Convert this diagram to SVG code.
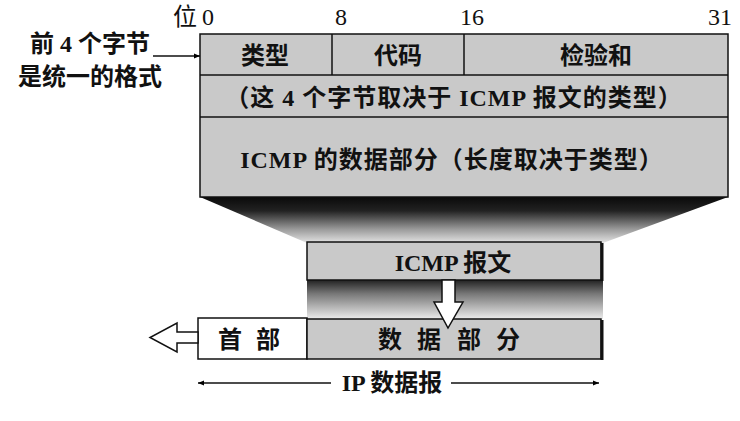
<svg xmlns="http://www.w3.org/2000/svg" width="740" height="421" viewBox="0 0 740 421">
<defs>
<linearGradient id="sh1" x1="0" y1="0" x2="0" y2="1">
<stop offset="0" stop-color="#0a0a0a"/>
<stop offset="0.3" stop-color="#222"/>
<stop offset="0.7" stop-color="#9a9a9a"/>
<stop offset="1" stop-color="#e4e4e4"/>
</linearGradient>
<linearGradient id="sh2" x1="0" y1="0" x2="0" y2="1">
<stop offset="0" stop-color="#222"/>
<stop offset="0.35" stop-color="#777"/>
<stop offset="1" stop-color="#ececec"/>
</linearGradient>
<marker id="ah" viewBox="0 0 10 10" refX="10" refY="5" markerWidth="9" markerHeight="6" orient="auto-start-reverse" markerUnits="userSpaceOnUse">
<path d="M0,1 L10,5 L0,9 z" fill="#000"/>
</marker>
</defs>
<style>
.box{fill:#c9c9c9;stroke:#111;stroke-width:1.5}
.wbox{fill:#fff;stroke:#111;stroke-width:1.5}
.t{font-family:"Liberation Serif","Noto Sans CJK SC",serif;font-size:24px;font-weight:bold;fill:#111;text-anchor:middle}
.w{letter-spacing:1px}
.n{font-family:"Liberation Serif","Noto Sans CJK SC",serif;font-size:24px;fill:#111;text-anchor:middle}
.ln{stroke:#111;stroke-width:1.5;fill:none}
</style>
<rect width="740" height="421" fill="#fff"/>
<!-- shadows -->
<polygon points="200,197 728,197 603,243 307,243" fill="url(#sh1)"/>
<rect x="307" y="280" width="296" height="39" fill="url(#sh2)"/>
<!-- bit labels -->
<text class="n" x="185" y="25">位</text>
<text class="n" x="208" y="25">0</text>
<text class="n" x="341" y="25">8</text>
<text class="n" x="472" y="25">16</text>
<text class="n" x="720" y="25">31</text>
<g id="icmp-header">
<rect class="box" x="200" y="34" width="528" height="163"/>
<line class="ln" x1="200" y1="75" x2="728" y2="75"/>
<line class="ln" x1="200" y1="117" x2="728" y2="117"/>
<line class="ln" x1="332" y1="34" x2="332" y2="75"/>
<line class="ln" x1="464" y1="34" x2="464" y2="75"/>
<text class="t" x="265" y="64">类型</text>
<text class="t" x="398" y="64">代码</text>
<text class="t" x="596" y="64">检验和</text>
<text class="t w" x="454" y="106">（这 4 个字节取决于 ICMP 报文的类型）</text>
<text class="t w" x="452" y="168">ICMP 的数据部分（长度取决于类型）</text>
</g>
<g id="note">
<text class="t" x="90" y="52">前 4 个字节</text>
<text class="t" x="90" y="85">是统一的格式</text>
</g>
<g id="icmp-msg">
<rect class="box" x="307" y="242" width="294" height="38"/>
<line x1="602" y1="243" x2="602" y2="281" stroke="#111" stroke-width="3"/>
<text class="t" x="453" y="271">ICMP 报文</text>
</g>
<g id="ip-header">
<rect class="wbox" x="198" y="318" width="109" height="41"/>
<text class="t" x="230" y="348">首</text>
<text class="t" x="268" y="348">部</text>
</g>
<g id="ip-data">
<rect class="box" x="307" y="319" width="294" height="40"/>
<line x1="602" y1="320" x2="602" y2="360" stroke="#111" stroke-width="3"/>
<text class="t" x="390" y="348">数</text>
<text class="t" x="429" y="348">据</text>
<text class="t" x="469" y="348">部</text>
<text class="t" x="508" y="348">分</text>
</g>
<g id="ip-datagram">
<text class="t" x="392" y="391">IP 数据报</text>
</g>
<g id="connectors">
<line class="ln" x1="153" y1="56" x2="200" y2="56" marker-end="url(#ah)"/>
<polygon points="442,280 455,280 455,302 463,302 448,328 434,302 442,302" fill="#fff" stroke="#111" stroke-width="1.5"/>
<polygon points="198,332 177,332 177,323 150,337.5 177,352 177,343 198,343" fill="#fff" stroke="#111" stroke-width="1.5"/>
<line class="ln" x1="331" y1="383" x2="198" y2="383" marker-end="url(#ah)"/>
<line class="ln" x1="451" y1="383" x2="599" y2="383" marker-end="url(#ah)"/>
</g>
</svg>
